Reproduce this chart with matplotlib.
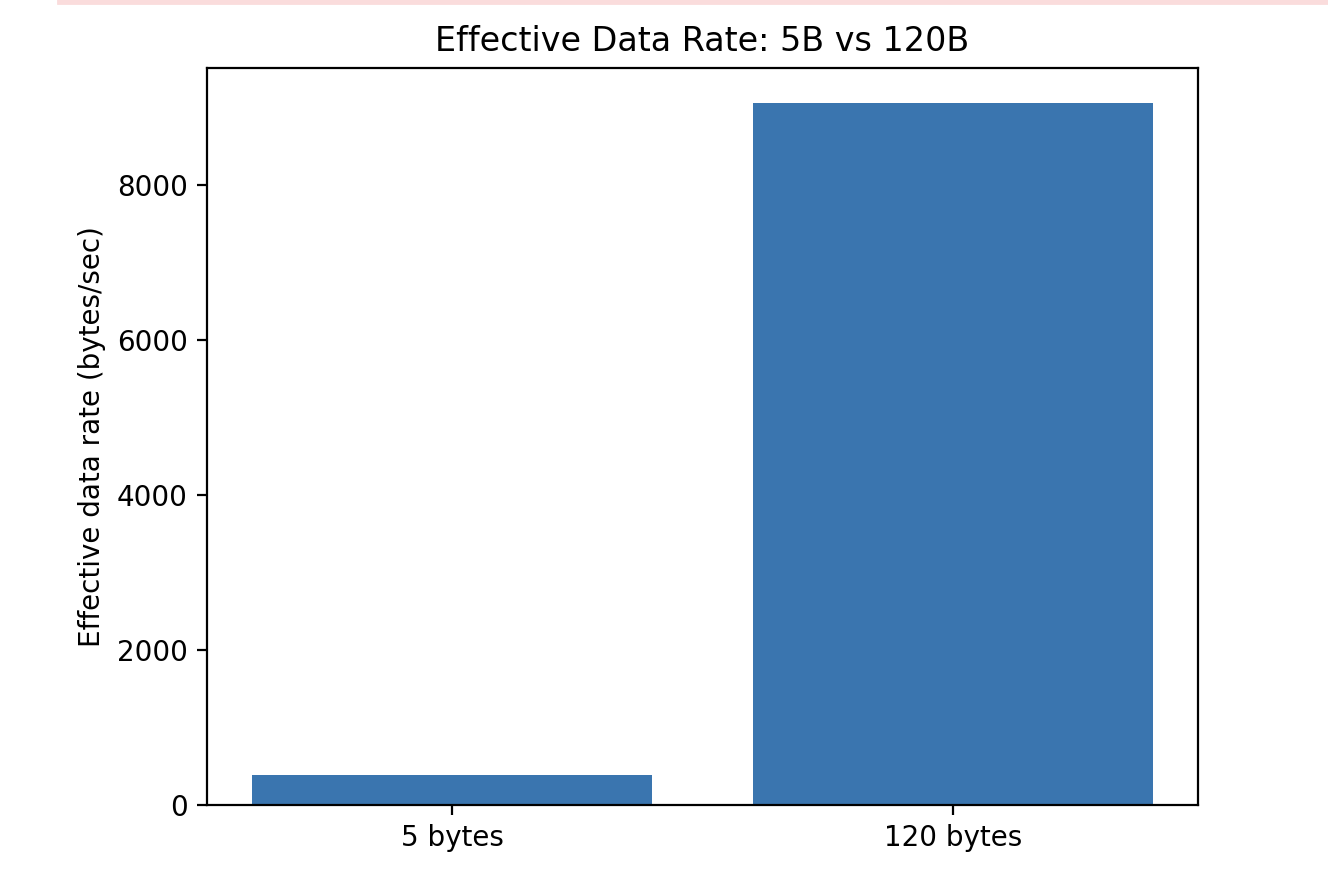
import matplotlib
matplotlib.use("Agg")
import matplotlib.pyplot as plt
from matplotlib.patches import Rectangle

# Data
labels = ["5 bytes", "120 bytes"]
rates = [386, 9054]

fig = plt.figure(figsize=(6.64, 4.42), dpi=200)

# notebook banner remnant at the top
fig.patches.append(Rectangle((58 / 1328, 1 - 3 / 884), 1, 3 / 884,
                             transform=fig.transFigure, color="#fadcdc", zorder=0))

ax = fig.add_axes([207 / 1328, 79 / 884, 991 / 1328, 737 / 884])
ax.bar(labels, rates, color="#3a75af")
ax.set_ylabel("Effective data rate (bytes/sec)")
ax.set_title("Effective Data Rate: 5B vs 120B")

fig.savefig("out.png", dpi=200)
